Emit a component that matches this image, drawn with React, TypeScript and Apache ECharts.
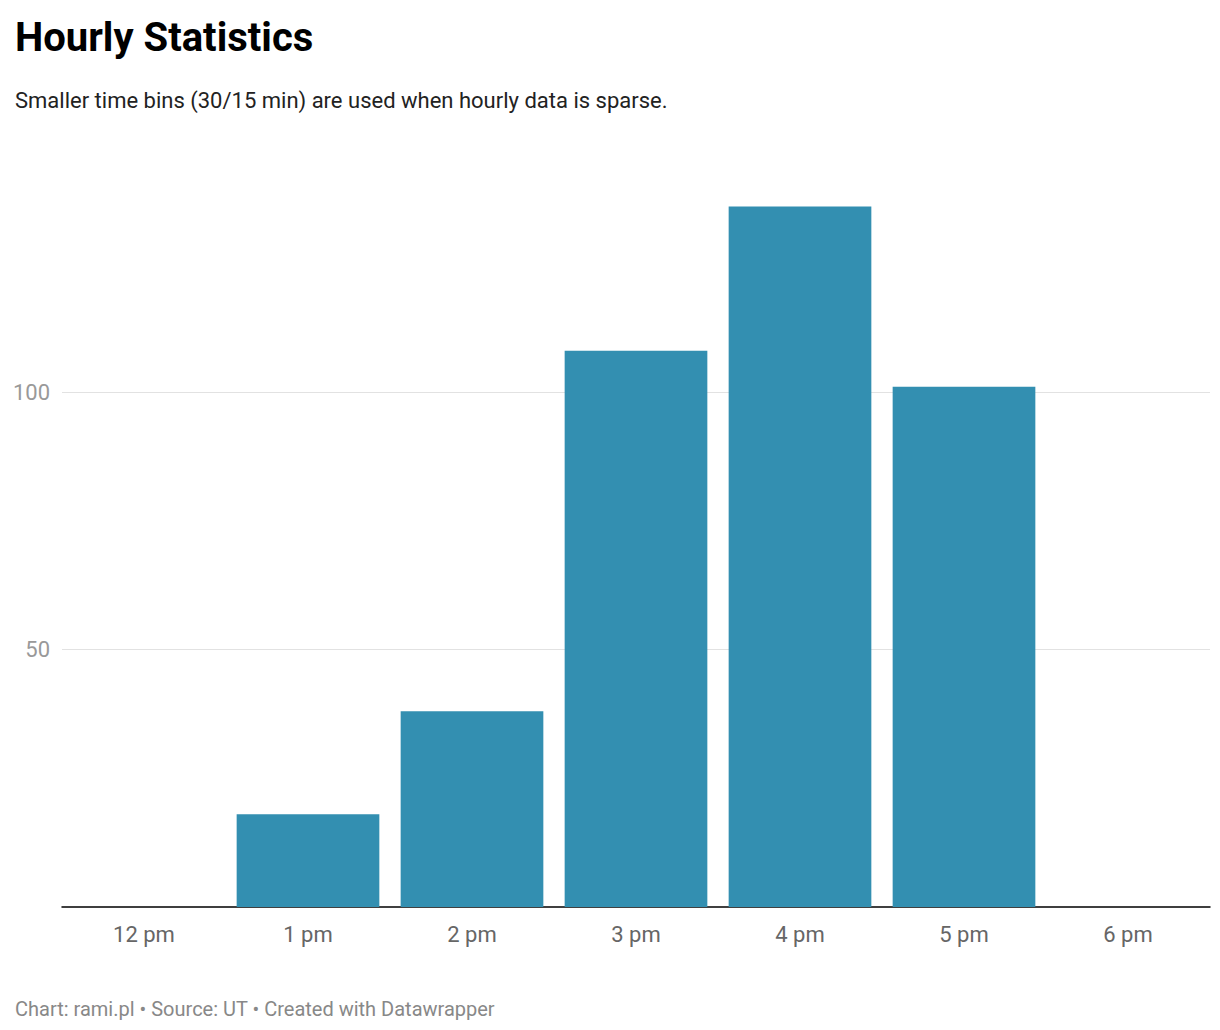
import * as echarts from "echarts";
import { useEffect, useRef } from "react";

const hours = ["12 pm", "1 pm", "2 pm", "3 pm", "4 pm", "5 pm", "6 pm"];
const counts = [0, 18, 38, 108, 136, 101, 0];

const App = () => {
  const chartRef = useRef(null);

  useEffect(() => {
    if (!chartRef.current) return;
    const myChart = echarts.init(chartRef.current, null, { renderer: "svg" });
    const option = {
      animation: false,
      textStyle: { fontFamily: "Roboto" },
      title: [
        {
          text: "Hourly Statistics",
          left: 2,
          top: 4,
          textStyle: { fontSize: 40, fontWeight: "bold", color: "#000", fontFamily: "Roboto" },
        },
        {
          text: "Smaller time bins (30/15 min) are used when hourly data is sparse.",
          left: 2,
          top: 76,
          textStyle: { fontSize: 22, fontWeight: "normal", color: "#222", fontFamily: "Roboto" },
        },
        {
          text: "Chart: rami.pl • Source: UT • Created with Datawrapper",
          left: 2,
          top: 986,
          textStyle: { fontSize: 20, fontWeight: "normal", color: "#888", fontFamily: "Roboto" },
        },
      ],
      grid: { left: 54, right: 2, top: 126.5, bottom: 115 },
      xAxis: {
        type: "category",
        data: hours,
        axisTick: { show: false },
        axisLine: { lineStyle: { color: "#000", width: 1.5 } },
        axisLabel: { color: "#666", fontSize: 22, margin: 16 },
      },
      yAxis: {
        type: "value",
        min: 0,
        max: 150,
        interval: 50,
        axisLabel: {
          color: "#999",
          fontSize: 22,
          margin: 12,
          formatter: (v: number) => (v === 50 || v === 100 ? String(v) : ""),
        },
        splitLine: {
          lineStyle: { color: "#e2e2e2" },
          showMinLine: false,
          showMaxLine: false,
        },
      },
      series: [
        {
          type: "bar",
          data: counts,
          barCategoryGap: "13%",
          itemStyle: { color: "#338fb1" },
        },
      ],
    };
    myChart.setOption(option);
    return () => {
      myChart.dispose();
    };
  }, []);

  return <div ref={chartRef} style={{ width: 1204, height: 1014 }} />;
};

export default App;
